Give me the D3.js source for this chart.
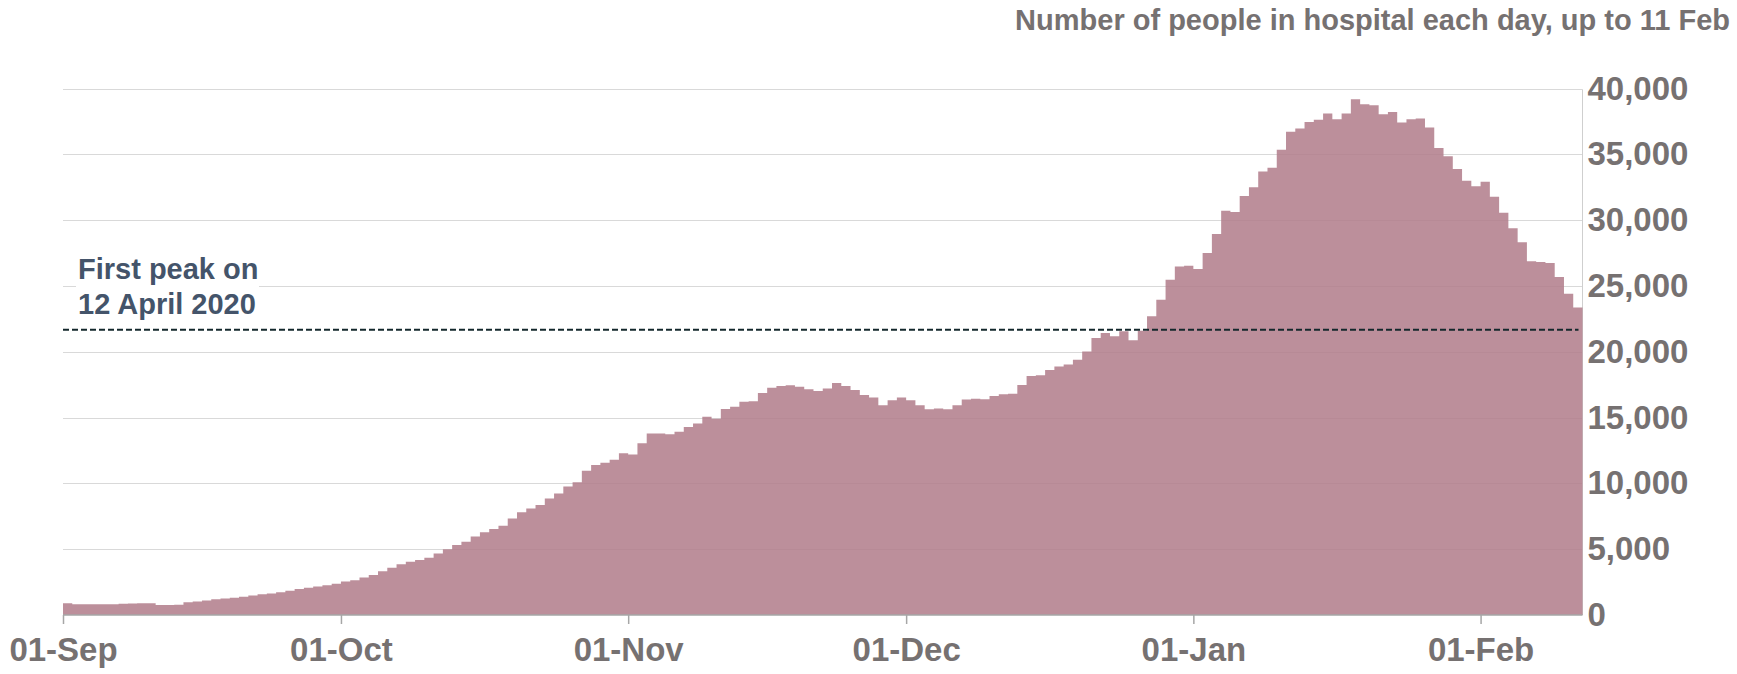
<!DOCTYPE html>
<html>
<head>
<meta charset="utf-8">
<script src="https://cdn.jsdelivr.net/npm/d3@7"></script>
<style>
  html, body { margin: 0; padding: 0; background: #ffffff; }
  svg { display: block; font-family: "Liberation Sans", Arial, sans-serif; }
</style>
</head>
<body>
<svg id="chart" width="1737" height="674"></svg>
<script>
// ---- Data ----
const startDate = "2020-09-01";   // first day
const endDate = "2021-02-12";     // day after last day (11 Feb)
const hospitalPatients = [
  884, 810, 810, 810, 815, 820, 850, 880, 890, 900,
  760, 760, 770, 960, 1030, 1110, 1190, 1260, 1310, 1390,
  1490, 1570, 1640, 1720, 1840, 1970, 2070, 2170, 2270, 2370,
  2550, 2650, 2850, 3040, 3320, 3590, 3850, 4050, 4180, 4350,
  4680, 4990, 5320, 5570, 5970, 6280, 6530, 6780, 7340, 7800,
  8100, 8350, 8860, 9240, 9770, 10080, 10960, 11400, 11560, 11800,
  12290, 12200, 13050, 13790, 13800, 13740, 13920, 14290, 14560, 15070,
  14920, 15650, 15830, 16200, 16250, 16860, 17270, 17400, 17460, 17350,
  17150, 17020, 17210, 17630, 17400, 17100, 16720, 16520, 15930, 16310,
  16520, 16310, 15930, 15630, 15690, 15630, 15930, 16370, 16440, 16390,
  16640, 16770, 16820, 17470, 18160, 18210, 18610, 18880, 19040, 19400,
  20020, 21040, 21420, 21190, 21570, 20880, 21600, 22700, 23960, 25480,
  26490, 26540, 26290, 27500, 28960, 30710, 30630, 31840, 32500, 33700,
  33980, 35350, 36720, 36970, 37470, 37630, 38110, 37680, 38110, 39190,
  38810, 38740, 38060, 38230, 37420, 37680, 37730, 37050, 35480, 34850,
  33890, 33000, 32580, 32930, 31790, 30560, 29390, 28330, 26890, 26820,
  26740, 25680, 24420, 23360
];
const firstPeakValue = 21683;
const annotationLines = ["First peak on", "12 April 2020"];
const titleText = "Number of people in hospital each day, up to 11 Feb";
const xTickDates = ["2020-09-01", "2020-10-01", "2020-11-01", "2020-12-01", "2021-01-01", "2021-02-01"];
const yTickValues = [0, 5000, 10000, 15000, 20000, 25000, 30000, 35000, 40000];

// ---- Layout ----
const plot = { left: 63, right: 1582.5, top: 88.6, bottom: 615 };
const parse = d3.utcParse("%Y-%m-%d");
const t0 = parse(startDate), t1 = parse(endDate);

const x = d3.scaleUtc().domain([t0, t1]).range([plot.left, plot.right]);
const y = d3.scaleLinear().domain([0, 40000]).range([plot.bottom, plot.top]);

const series = hospitalPatients.map((v, i) => ({ date: d3.utcDay.offset(t0, i), value: v }));
const stepData = series.concat([{ date: t1, value: series[series.length - 1].value }]);

const svg = d3.select("#chart");
const textGrey = "#767171";

// gridlines
svg.append("g")
  .selectAll("line")
  .data(yTickValues.filter(v => v > 0))
  .join("line")
  .attr("x1", plot.left).attr("x2", plot.right)
  .attr("y1", d => Math.round(y(d)) + 0.5).attr("y2", d => Math.round(y(d)) + 0.5)
  .attr("stroke", "#d9d9d9").attr("stroke-width", 1);

// right border
svg.append("line")
  .attr("x1", plot.right).attr("x2", plot.right)
  .attr("y1", Math.round(y(40000)) + 0.5).attr("y2", plot.bottom)
  .attr("stroke", "#cfcfcf").attr("stroke-width", 1);

// area (daily steps)
const area = d3.area()
  .curve(d3.curveStepAfter)
  .x(d => x(d.date))
  .y0(y(0))
  .y1(d => y(d.value));

svg.append("path")
  .datum(stepData)
  .attr("d", area)
  .attr("fill", "#B07B8A")
  .attr("fill-opacity", 0.85);

// x axis
const xAxis = d3.axisBottom(x)
  .tickValues(xTickDates.map(parse))
  .tickFormat(d3.utcFormat("%d-%b"))
  .tickSizeInner(9).tickSizeOuter(0).tickPadding(14);

const gx = svg.append("g")
  .attr("transform", `translate(0,${plot.bottom})`)
  .call(xAxis);
gx.select(".domain").attr("stroke", "#a6a6a6").attr("stroke-width", 1.5)
  .attr("d", `M${plot.left},0H${plot.right}`);
gx.selectAll(".tick line").attr("stroke", "#a6a6a6").attr("stroke-width", 1.5);
gx.selectAll(".tick text")
  .attr("fill", textGrey)
  .attr("font-size", 33)
  .attr("font-weight", "bold")
  .attr("font-family", '"Liberation Sans", Arial, sans-serif');

// y axis (right)
const yAxis = d3.axisRight(y)
  .tickValues(yTickValues)
  .tickFormat(d3.format(","))
  .tickSize(0).tickPadding(5);

const gy = svg.append("g")
  .attr("transform", `translate(${plot.right},0)`)
  .call(yAxis);
gy.select(".domain").remove();
gy.selectAll(".tick text")
  .attr("fill", textGrey)
  .attr("font-size", 33)
  .attr("font-weight", "bold")
  .attr("font-family", '"Liberation Sans", Arial, sans-serif');

// annotation background + text
svg.append("rect")
  .attr("x", 76).attr("y", 256)
  .attr("width", 183).attr("height", 62)
  .attr("fill", "#ffffff");

const ann = svg.append("text")
  .attr("x", 78).attr("y", 278.5)
  .attr("fill", "#44546A")
  .attr("font-size", 29)
  .attr("font-weight", "bold");
ann.selectAll("tspan")
  .data(annotationLines)
  .join("tspan")
  .attr("x", 78)
  .attr("dy", (d, i) => i === 0 ? 0 : 35)
  .text(d => d);

// first-peak dashed line
svg.append("line")
  .attr("x1", plot.left).attr("x2", plot.right - 4)
  .attr("y1", y(firstPeakValue)).attr("y2", y(firstPeakValue))
  .attr("stroke", "#14282c")
  .attr("stroke-width", 2)
  .attr("stroke-dasharray", "6,3");

// title
svg.append("text")
  .attr("x", 1730).attr("y", 30)
  .attr("text-anchor", "end")
  .attr("fill", textGrey)
  .attr("font-size", 29)
  .attr("font-weight", "bold")
  .text(titleText);
</script>
</body>
</html>
